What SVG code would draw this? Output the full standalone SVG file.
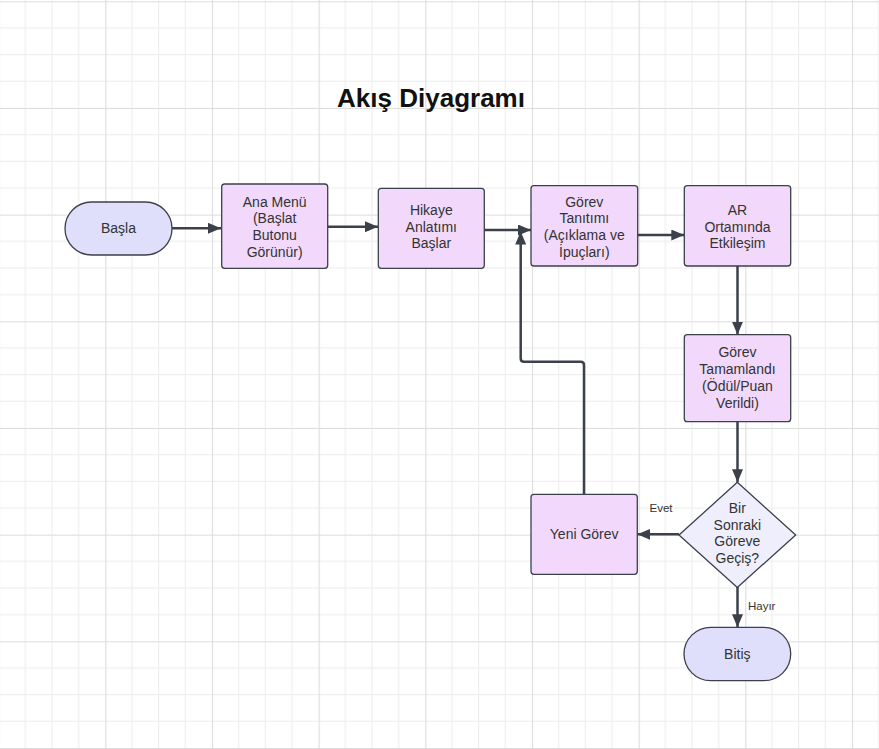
<svg xmlns="http://www.w3.org/2000/svg" width="879" height="749" viewBox="0 0 879 749">
<defs>
<pattern id="grid" patternUnits="userSpaceOnUse" x="-1.4" y="1.3" width="106.67" height="106.67">
<path d="M26.67,0V106.67M53.33,0V106.67M80,0V106.67M0,26.67H106.67M0,53.33H106.67M0,80H106.67" stroke="#ececec" stroke-width="1" fill="none"/>
<path d="M0.5,0V106.67M0,0.5H106.67" stroke="#dcdcdc" stroke-width="1.2" fill="none"/>
</pattern>
<marker id="arr" markerUnits="userSpaceOnUse" markerWidth="15" markerHeight="12" refX="13" refY="5.5" orient="auto">
<path d="M0,0 L13,5.5 L0,11 z" fill="#3b404b"/>
</marker>
<style>
.box{fill:#f2d9fb;stroke:#3b404b;stroke-width:1.3}
.term{fill:#dfdffb;stroke:#3b404b;stroke-width:1.3}
.dec{fill:#eeeefc;stroke:#3b404b;stroke-width:1.3}
.t{font-family:"Liberation Sans",Arial,sans-serif;font-size:14px;fill:#333;text-anchor:middle}
.lbl{font-family:"Liberation Sans",Arial,sans-serif;font-size:11.5px;fill:#333;text-anchor:middle}
.c{fill:none;stroke:#3b404b;stroke-width:2.5;marker-end:url(#arr)}
</style>
</defs>
<rect width="879" height="749" fill="#ffffff"/>
<rect width="879" height="749" fill="url(#grid)"/>
<text x="431" y="107" font-family="Liberation Sans,Arial,sans-serif" font-weight="bold" font-size="26" fill="#111" text-anchor="middle">Akış Diyagramı</text>

<g id="connectors">
<path class="c" d="M172,228.3 H221"/>
<path class="c" d="M328,226.7 H378"/>
<path class="c" d="M484.3,230 H531"/>
<path class="c" d="M637.7,235 H684.3"/>
<path class="c" d="M737.5,266 V334.7"/>
<path class="c" d="M737.5,421.7 V482.3"/>
<path class="c" d="M679,534.3 H637.3"/>
<path class="c" d="M737.5,587 V627.3"/>
<path class="c" d="M584,494.3 V365 Q584,361.7 580.7,361.7 H524 Q520.7,361.7 520.7,358.4 V231.5"/>
<text class="lbl" x="661" y="512">Evet</text>
<text class="lbl" x="761.7" y="610">Hayır</text>
</g>

<g id="basla">
<rect class="term" x="65" y="202" width="107" height="53" rx="26.5"/>
<text class="t" x="118.5" y="233">Başla</text>
</g>
<g id="ana-menu">
<rect class="box" x="221.7" y="184" width="106" height="84.3" rx="3"/>
<text class="t" x="274.7" y="206.5">Ana Menü</text>
<text class="t" x="274.7" y="223">(Başlat</text>
<text class="t" x="274.7" y="240">Butonu</text>
<text class="t" x="274.7" y="256.5">Görünür)</text>
</g>
<g id="hikaye">
<rect class="box" x="378.3" y="188.3" width="106" height="80" rx="3"/>
<text class="t" x="431.3" y="215">Hikaye</text>
<text class="t" x="431.3" y="231.5">Anlatımı</text>
<text class="t" x="431.3" y="248">Başlar</text>
</g>
<g id="gorev-tanitimi">
<rect class="box" x="531" y="185.7" width="106.7" height="80.3" rx="3"/>
<text class="t" x="584.3" y="206.5">Görev</text>
<text class="t" x="584.3" y="223">Tanıtımı</text>
<text class="t" x="584.3" y="240">(Açıklama ve</text>
<text class="t" x="584.3" y="256.5">İpuçları)</text>
</g>
<g id="ar">
<rect class="box" x="684.3" y="185.7" width="106.4" height="80.3" rx="3"/>
<text class="t" x="737.5" y="215">AR</text>
<text class="t" x="737.5" y="231.5">Ortamında</text>
<text class="t" x="737.5" y="248">Etkileşim</text>
</g>
<g id="gorev-tamamlandi">
<rect class="box" x="684.3" y="334.7" width="106.4" height="87" rx="3"/>
<text class="t" x="737.5" y="357">Görev</text>
<text class="t" x="737.5" y="374">Tamamlandı</text>
<text class="t" x="737.5" y="390.5">(Ödül/Puan</text>
<text class="t" x="737.5" y="407.5">Verildi)</text>
</g>
<g id="yeni-gorev">
<rect class="box" x="531" y="494.3" width="106.3" height="80" rx="3"/>
<text class="t" x="584.2" y="539">Yeni Görev</text>
</g>
<g id="karar">
<path class="dec" d="M737.3,482.3 L795.7,535 L737.3,587.5 L679,535 Z" stroke-linejoin="round"/>
<text class="t" x="737.3" y="512.5">Bir</text>
<text class="t" x="737.3" y="529.5">Sonraki</text>
<text class="t" x="737.3" y="546">Göreve</text>
<text class="t" x="737.3" y="562.5">Geçiş?</text>
</g>
<g id="bitis">
<rect class="term" x="684" y="627.3" width="106.7" height="53.4" rx="26.7"/>
<text class="t" x="737.3" y="658.5">Bitiş</text>
</g>
</svg>
